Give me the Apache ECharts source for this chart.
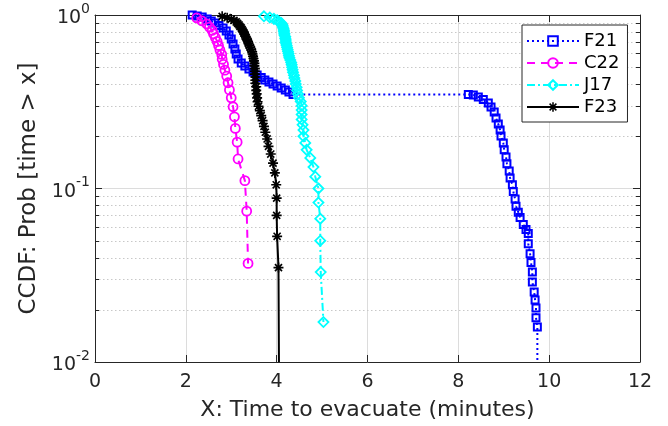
<!DOCTYPE html>
<html>
<head>
<meta charset="utf-8">
<script src="https://cdn.jsdelivr.net/npm/echarts@6/dist/echarts.min.js"></script>
<style>html,body{margin:0;padding:0;background:#fff}#c{width:668px;height:426px}</style>
</head>
<body>
<div id="c"></div>
<script>
// ---------------- data ----------------
const seriesNames = ['F21', 'C22', 'J17', 'F23'];

const f21X = [2.14, 2.25, 2.36, 2.47, 2.56, 2.64, 2.73, 2.82, 2.89, 2.95,
  3.00, 3.04, 3.08, 3.11, 3.15, 3.22, 3.30, 3.39, 3.48, 3.57,
  3.66, 3.74, 3.83, 3.92, 4.01, 4.10, 4.19, 4.27, 4.36,
  8.22, 8.33, 8.44, 8.55, 8.66, 8.72, 8.79, 8.83, 8.88, 8.92,
  8.94, 8.99, 9.01, 9.05, 9.07, 9.12, 9.14, 9.19, 9.21, 9.25,
  9.27, 9.32, 9.36, 9.43, 9.49, 9.54, 9.54, 9.58, 9.60, 9.63,
  9.63, 9.67, 9.69, 9.71, 9.71, 9.74, 9.74];
const f21P = [1.0, 0.987, 0.974, 0.948, 0.923, 0.899, 0.870, 0.841, 0.809, 0.767,
  0.727, 0.681, 0.637, 0.596, 0.558, 0.529, 0.508, 0.489, 0.469, 0.451,
  0.436, 0.422, 0.411, 0.400, 0.390, 0.380, 0.370, 0.360, 0.348,
  0.348, 0.346, 0.337, 0.326, 0.311, 0.295, 0.276, 0.255, 0.235, 0.217,
  0.201, 0.183, 0.167, 0.152, 0.139, 0.126, 0.115, 0.105, 0.096, 0.087,
  0.079, 0.073, 0.068, 0.062, 0.058, 0.055, 0.048, 0.042, 0.0375, 0.0330,
  0.0289, 0.0253, 0.0228, 0.0205, 0.0180, 0.0159, 0.01];

const c22X = [2.24, 2.35, 2.46, 2.52, 2.58, 2.61, 2.65, 2.69, 2.72, 2.75,
  2.79, 2.80, 2.83, 2.86, 2.90, 2.93, 2.96, 3.00, 3.04, 3.07,
  3.09, 3.13, 3.15, 3.30, 3.34, 3.37];
const c22P = [0.963, 0.926, 0.889, 0.852, 0.815, 0.778, 0.741, 0.704, 0.667, 0.630,
  0.593, 0.556, 0.519, 0.481, 0.444, 0.407, 0.370, 0.333, 0.296, 0.259,
  0.222, 0.185, 0.148, 0.111, 0.074, 0.037];

const j17X = [3.72, 3.85, 3.94, 4.01, 4.05, 4.10, 4.12, 4.13, 4.14, 4.15,
  4.16, 4.16, 4.17, 4.17, 4.19, 4.19, 4.20, 4.20, 4.21, 4.22,
  4.23, 4.24, 4.25, 4.26, 4.27, 4.28, 4.30, 4.32, 4.33, 4.34,
  4.35, 4.36, 4.38, 4.39, 4.41, 4.42, 4.44, 4.45, 4.47, 4.49,
  4.53, 4.55, 4.55, 4.55, 4.55, 4.57, 4.59, 4.59, 4.63, 4.66,
  4.74, 4.81, 4.85, 4.92, 4.92, 4.96, 4.96, 4.97, 5.03];
const j17P = [0.983, 0.967, 0.950, 0.933, 0.917, 0.900, 0.883, 0.867, 0.850, 0.833,
  0.817, 0.800, 0.783, 0.767, 0.750, 0.733, 0.717, 0.700, 0.683, 0.667,
  0.650, 0.633, 0.617, 0.600, 0.583, 0.567, 0.550, 0.533, 0.517, 0.500,
  0.483, 0.467, 0.450, 0.433, 0.417, 0.400, 0.383, 0.367, 0.350, 0.333,
  0.317, 0.300, 0.283, 0.267, 0.250, 0.233, 0.217, 0.200, 0.183, 0.167,
  0.150, 0.133, 0.117, 0.100, 0.083, 0.067, 0.050, 0.033, 0.017];

const f23X = [2.80, 2.91, 3.00, 3.06, 3.11, 3.14, 3.17, 3.19, 3.22, 3.24,
  3.26, 3.28, 3.30, 3.31, 3.33, 3.35, 3.37, 3.38, 3.40, 3.42,
  3.44, 3.46, 3.47, 3.48, 3.49, 3.50, 3.51, 3.51, 3.52, 3.52,
  3.52, 3.53, 3.53, 3.53, 3.55, 3.55, 3.56, 3.57, 3.58, 3.60,
  3.63, 3.66, 3.69, 3.72, 3.75, 3.79, 3.82, 3.87, 3.92, 3.96,
  3.99, 4.00, 4.00, 4.01, 4.04, 4.05];
const f23P = [0.982, 0.965, 0.947, 0.930, 0.912, 0.895, 0.877, 0.860, 0.842, 0.825,
  0.807, 0.789, 0.772, 0.754, 0.737, 0.719, 0.702, 0.684, 0.667, 0.649,
  0.632, 0.614, 0.596, 0.579, 0.561, 0.544, 0.526, 0.509, 0.491, 0.474,
  0.456, 0.439, 0.421, 0.404, 0.386, 0.368, 0.351, 0.333, 0.316, 0.298,
  0.281, 0.263, 0.246, 0.228, 0.211, 0.193, 0.175, 0.158, 0.140, 0.123,
  0.105, 0.088, 0.070, 0.053, 0.035, 0.01];

// axis ranges / ticks
const xRange = [0, 12];
const xStep = 2;
const yRange = [0.01, 1];
const yMinorTicks = [0.02, 0.03, 0.04, 0.05, 0.06, 0.07, 0.08, 0.09,
  0.2, 0.3, 0.4, 0.5, 0.6, 0.7, 0.8, 0.9];

// ---------------- chart ----------------
const FONT = 'DejaVu Sans';
const AX = '#262626';
const ASTERISK = 'path://M0,8.4 L20,8.4 L20,11.6 L0,11.6 Z M8.4,0 L11.6,0 L11.6,20 L8.4,20 Z M4.06,1.8 L18.2,15.94 L15.94,18.2 L1.8,4.06 Z M18.2,4.06 L4.06,18.2 L1.8,15.94 L15.94,1.8 Z';

function pts(xs, ps, tailBare) {
  return xs.map((x, i) => (tailBare && i === xs.length - 1)
    ? { value: [x, ps[i]], symbol: 'none' }
    : [x, ps[i]]);
}

const chart = echarts.init(document.getElementById('c'), null, { renderer: 'canvas' });

const axisLineStyle = { show: true, onZero: false, lineStyle: { color: AX, width: 1 } };

const option = {
  animation: false,
  backgroundColor: '#ffffff',
  grid: { left: 95, right: 28, top: 15, bottom: 64, containLabel: false },
  legend: {
    data: seriesNames,
    orient: 'vertical',
    left: 522, top: 25,
    backgroundColor: '#ffffff',
    borderColor: AX, borderWidth: 1,
    padding: [7, 8, 6, 4],
    itemWidth: 52, itemHeight: 12, itemGap: 4,
    textStyle: { fontFamily: FONT, fontSize: 18, color: '#000' }
  },
  xAxis: [{
    type: 'value', min: xRange[0], max: xRange[1], interval: xStep, position: 'bottom',
    name: 'X: Time to evacuate (minutes)', nameLocation: 'middle', nameGap: 37,
    nameTextStyle: { fontFamily: FONT, fontSize: 22, color: AX },
    axisLine: axisLineStyle,
    axisTick: { show: true, inside: true, length: 7, lineStyle: { color: AX } },
    axisLabel: { fontFamily: FONT, fontSize: 19, color: AX, margin: 11 },
    splitLine: { show: true, lineStyle: { color: '#dcdcdc', width: 1 } }
  }, {
    type: 'value', min: xRange[0], max: xRange[1], interval: xStep, position: 'top',
    axisLine: axisLineStyle,
    axisTick: { show: true, inside: true, length: 7, lineStyle: { color: AX } },
    axisLabel: { show: false },
    splitLine: { show: false }
  }],
  yAxis: [{
    type: 'log', logBase: 10, min: yRange[0], max: yRange[1], position: 'left',
    name: 'CCDF: Prob [time > x]', nameLocation: 'middle', nameGap: 54, nameRotate: 90,
    nameTextStyle: { fontFamily: FONT, fontSize: 23, color: AX },
    axisLine: axisLineStyle,
    axisTick: { show: true, inside: true, length: 7, lineStyle: { color: AX } },
    axisLabel: {
      margin: 5,
      formatter: v => '{b|10}{s|' + Math.round(Math.log10(v)) + '}',
      rich: {
        b: { fontFamily: FONT, fontSize: 19, color: AX, verticalAlign: 'bottom', lineHeight: 26 },
        s: { fontFamily: FONT, fontSize: 14, color: AX, verticalAlign: 'top', lineHeight: 14 }
      }
    },
    splitLine: { show: true, lineStyle: { color: '#dcdcdc', width: 1 } }
  }, {
    type: 'log', logBase: 10, min: yRange[0], max: yRange[1], position: 'right',
    axisLine: axisLineStyle,
    axisTick: { show: true, inside: true, length: 7, lineStyle: { color: AX } },
    axisLabel: { show: false },
    splitLine: { show: false }
  }],
  series: [
    {
      name: 'minor', type: 'custom', coordinateSystem: 'cartesian2d',
      xAxisIndex: 0, yAxisIndex: 0, z: 1, silent: true,
      data: yMinorTicks.map(v => [xRange[0], v]),
      encode: { x: 0, y: 1 },
      renderItem: (params, api) => {
        const v = api.value(1);
        const a = api.coord([xRange[0], v]);
        const b = api.coord([xRange[1], v]);
        const y = Math.round(a[1]) + 0.5;
        return {
          type: 'group', children: [
            { type: 'line', shape: { x1: a[0], y1: y, x2: b[0], y2: y },
              style: { stroke: '#c8c8c8', lineWidth: 1, lineDash: [1.5, 2.5] } },
            { type: 'line', shape: { x1: a[0], y1: y, x2: a[0] + 4, y2: y },
              style: { stroke: AX, lineWidth: 1 } },
            { type: 'line', shape: { x1: b[0] - 4, y1: y, x2: b[0], y2: y },
              style: { stroke: AX, lineWidth: 1 } }
          ]
        };
      }
    },
    {
      name: 'F21', type: 'line', data: pts(f21X, f21P, true), clip: false, showAllSymbol: true,
      symbol: 'rect', symbolSize: 7,
      lineStyle: { color: '#0000ff', width: 2, type: [2, 3] },
      itemStyle: { color: 'rgba(255,255,255,0)', borderColor: '#0000ff', borderWidth: 2 },
      emphasis: { disabled: true }, z: 2
    },
    {
      name: 'C22', type: 'line', data: pts(c22X, c22P, false), clip: false, showAllSymbol: true,
      symbol: 'circle', symbolSize: 9,
      lineStyle: { color: '#ff00ff', width: 2, type: [8, 6] },
      itemStyle: { color: 'rgba(255,255,255,0)', borderColor: '#ff00ff', borderWidth: 1.8 },
      emphasis: { disabled: true }, z: 3
    },
    {
      name: 'J17', type: 'line', data: pts(j17X, j17P, false), clip: false, showAllSymbol: true,
      symbol: 'diamond', symbolSize: 10,
      lineStyle: { color: '#00ffff', width: 2, type: [8, 3, 2, 3] },
      itemStyle: { color: 'rgba(255,255,255,0)', borderColor: '#00ffff', borderWidth: 1.8 },
      emphasis: { disabled: true }, z: 4
    },
    {
      name: 'F23', type: 'line', data: pts(f23X, f23P, true), clip: false, showAllSymbol: true,
      symbol: ASTERISK, symbolSize: 10,
      lineStyle: { color: '#000000', width: 2 },
      itemStyle: { color: '#000000', borderWidth: 0 },
      emphasis: { disabled: true }, z: 5
    }
  ]
};
chart.setOption(option);
</script>
</body>
</html>
